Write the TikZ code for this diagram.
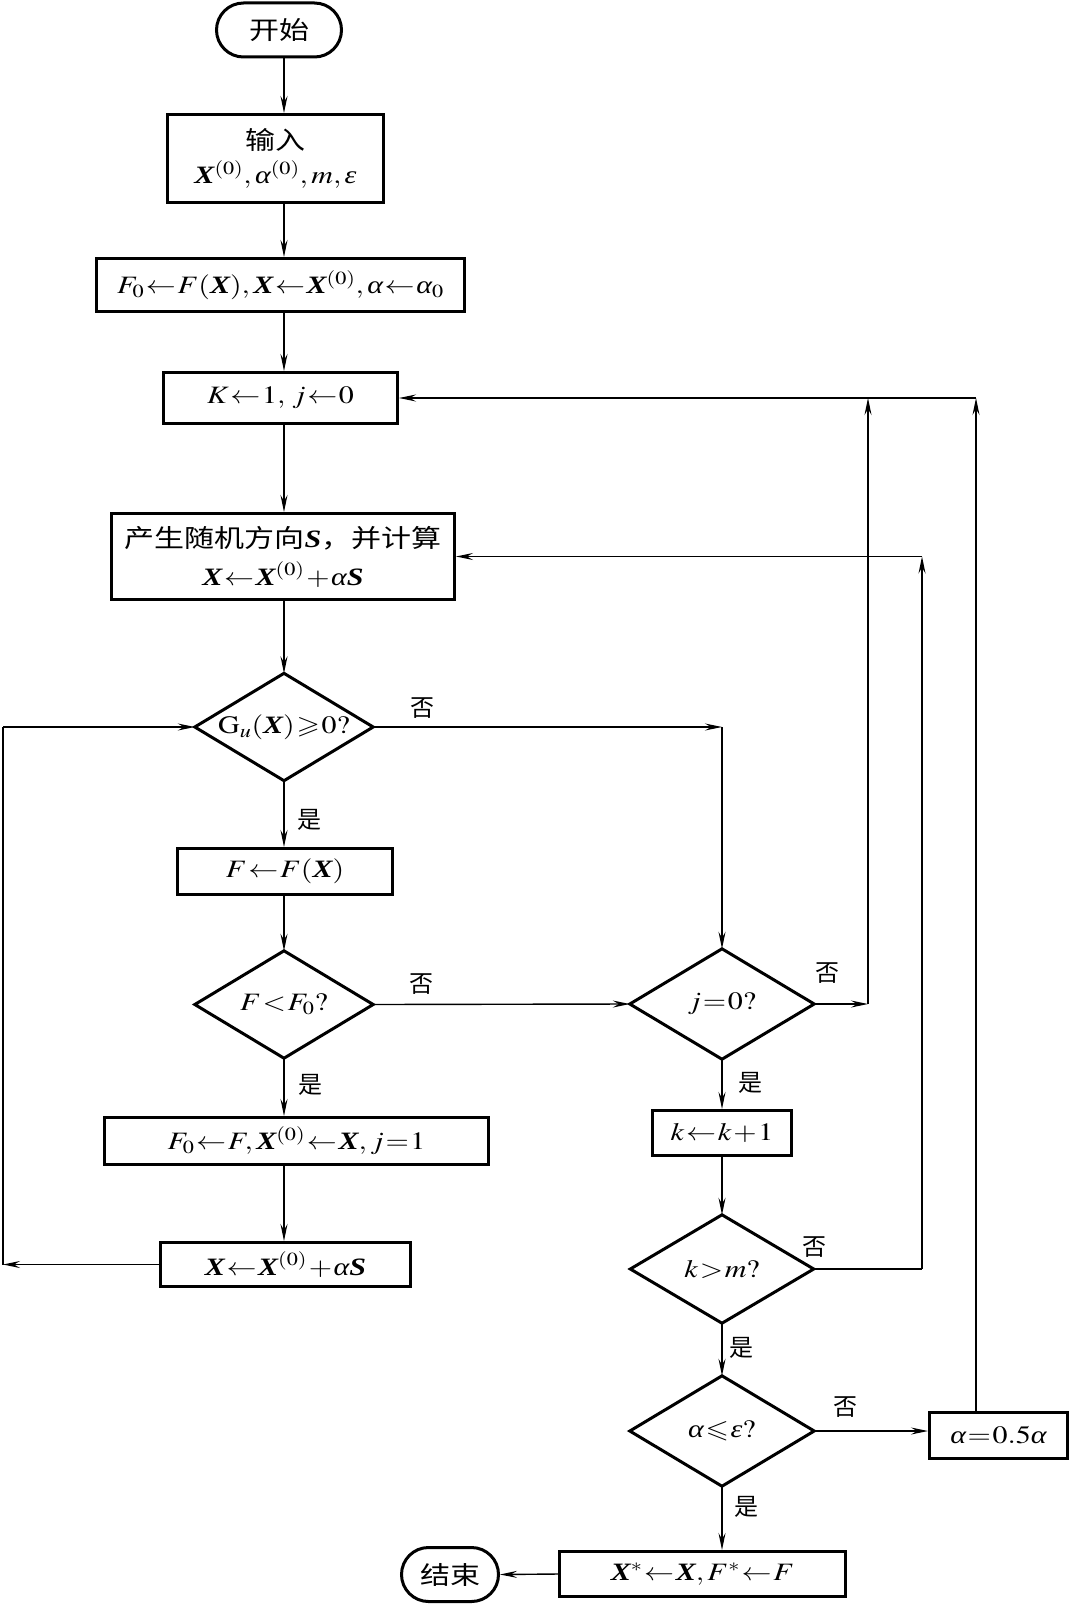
\documentclass[tikz,border=0pt]{standalone}
\usepackage{graphicx}
\usepackage{mathptmx}
\usepackage{amssymb}
\usepackage{fontspec}
\setmainfont{Liberation Serif}
\newfontfamily\cjk{Noto Sans CJK SC}
\usetikzlibrary{arrows.meta}
\newcommand\BX{\mbox{\bfseries\itshape X}}
\newcommand\BS{\mbox{\bfseries\itshape S}}
\newcommand\al{\mbox{\itshape α}}
\newcommand\ep{\mbox{\itshape ε}}
\newcommand\tightmath{\thickmuskip=1mu\relax\medmuskip=1mu\relax}
\newcommand\sx[1]{\scalebox{1.2}[1]{\tightmath #1}}
\tikzset{
  txt/.style={font=\fontsize{25}{36}\selectfont, align=center},
  box/.style={txt, draw, line width=3pt, rectangle, inner sep=0pt},
  term/.style={txt, draw, line width=3pt, rectangle, inner sep=0pt, rounded corners=27pt},
  dia/.style={txt, rectangle, inner sep=0pt},
  diab/.style={draw, line width=3pt, line join=miter},
  lab/.style={font=\fontsize{24}{28}\selectfont\cjk, inner sep=0pt},
  conn/.style={line width=1.4pt},
  arr/.style={conn, -{Stealth[length=17pt,width=7pt,inset=6pt]}}
}
\newcommand\drawdia[1]{\draw[diab] (#1.north) -- (#1.east) -- (#1.south) -- (#1.west) -- cycle;}
\begin{document}
\begin{tikzpicture}[x=1pt,y=-1pt]
\useasboundingbox[fill=white] (0,0) rectangle (1071,1605);
\coordinate (colL) at (284,0);
\coordinate (colR) at (722,0);
\coordinate (xa) at (868,0);
\coordinate (xb) at (922,0);
\coordinate (xc) at (976,0);
\coordinate (xl) at (3,0);
% left column
\node[term, minimum width=125pt, minimum height=54pt] (start) at (279,30) {\sx{\cjk 开始}};
\node[box, minimum width=216pt, minimum height=88pt] (in) at (275.5,158.5) {\sx{\cjk 输入}\\[-2pt]\sx{$\BX^{(0)},\al^{(0)},m,\ep$}};
\node[box, minimum width=368pt, minimum height=53pt] (f0) at (280.5,285) {\sx{$F_0\leftarrow F(\BX),\BX\leftarrow\BX^{(0)},\al\leftarrow\al_0$}};
\node[box, minimum width=234pt, minimum height=51pt] (K) at (280.5,398) {\sx{$K\leftarrow1,\,j\leftarrow0$}};
\node[box, minimum width=343pt, minimum height=86pt] (gen) at (283,556.5) {\sx{{\cjk 产生随机方向}$\BS${\cjk ，并计算}}\\[2pt]\sx{$\BX\leftarrow\BX^{(0)}+\al\BS$}};
\node[dia, minimum width=178pt, minimum height=107pt] (Gu) at (284,727) {\sx{$\mathrm{G}_u(\BX)\geqslant0?$}};
\drawdia{Gu}
\node[box, minimum width=215pt, minimum height=46pt] (F) at (285,871.5) {\sx{$F\leftarrow F(\BX)$}};
\node[dia, minimum width=178pt, minimum height=107pt] (FF0) at (284,1004.5) {\sx{$F<F_0?$}};
\drawdia{FF0}
\node[box, minimum width=384pt, minimum height=47pt] (upd) at (296.5,1141) {\sx{$F_0\leftarrow F,\BX^{(0)}\leftarrow\BX,j=1$}};
\node[box, minimum width=250pt, minimum height=44pt] (step) at (285.5,1264.5) {\sx{$\BX\leftarrow\BX^{(0)}+\al\BS$}};
% right column
\node[dia, minimum width=184pt, minimum height=110pt] (j0) at (722,1004) {\sx{$j=0?$}};
\drawdia{j0}
\node[box, minimum width=139pt, minimum height=45pt] (k) at (722,1133) {\sx{$k\leftarrow k+1$}};
\node[dia, minimum width=183pt, minimum height=108pt] (km) at (722,1269) {\sx{$k>m?$}};
\drawdia{km}
\node[dia, minimum width=184pt, minimum height=110pt] (ae) at (722,1431) {\sx{$\al\leqslant\ep?$}};
\drawdia{ae}
\node[box, minimum width=138pt, minimum height=46pt] (half) at (998.5,1435.5) {\sx{$\al=0.5\al$}};
\node[box, minimum width=286pt, minimum height=45pt] (xs) at (702.5,1574) {\sx{$\BX^*\leftarrow\BX,F^*\leftarrow F$}};
\node[term, minimum width=97pt, minimum height=54pt] (end) at (450,1574.5) {\sx{\cjk 结束}};
% labels
\node[lab] (l1) at (422,708) {否};
\node[lab] (l2) at (309,820) {是};
\node[lab] (l3) at (421,984) {否};
\node[lab] (l4) at (310,1085) {是};
\node[lab] (l5) at (827,973) {否};
\node[lab] (l6) at (750,1083) {是};
\node[lab] (l7) at (814,1247) {否};
\node[lab] (l8) at (741,1348) {是};
\node[lab] (l9) at (845,1407) {否};
\node[lab] (l10) at (746,1507) {是};
% vertical connectors, left column
\draw[arr] (start.south -| colL) -- (in.north -| colL);
\draw[arr] (in.south -| colL) -- (f0.north -| colL);
\draw[arr] (f0.south -| colL) -- (K.north -| colL);
\draw[arr] (K.south -| colL) -- (gen.north -| colL);
\draw[arr] (gen.south -| colL) -- (Gu.north);
\draw[arr] (Gu.south) -- (F.north -| colL);
\draw[arr] (F.south -| colL) -- (FF0.north);
\draw[arr] (FF0.south) -- (upd.north -| colL);
\draw[arr] (upd.south -| colL) -- (step.north -| colL);
% right column
\draw[arr] (j0.south) -- (k.north -| colR);
\draw[arr] (k.south -| colR) -- (km.north);
\draw[arr] (km.south) -- (ae.north);
\draw[arr] (ae.south) -- (xs.north -| colR);
\draw[arr] (xs.west) -- (end.east);
% branches
\draw[arr] (Gu.east) -- (Gu.east -| j0.north);
\draw[arr] (Gu.east -| j0.north) -- (j0.north);
\draw[arr] (FF0.east) -- (j0.west);
\draw[arr] (j0.east) -- (j0.east -| xa);
\draw[arr] (j0.east -| xa) -- (xa |- K.east);
\draw[arr] (xc |- half.north) -- (xc |- K.east);
\draw[arr] (xc |- K.east) -- (K.east);
\draw[conn] (km.east) -- (km.east -| xb);
\draw[arr] (km.east -| xb) -- (xb |- gen.east);
\draw[arr] (xb |- gen.east) -- (gen.east);
\draw[arr] (ae.east) -- (ae.east -| half.west);
\draw[arr] (step.west) -- (step.west -| xl);
\draw[conn] (step.west -| xl) -- (xl |- Gu.west);
\draw[arr] (xl |- Gu.west) -- (Gu.west);
\end{tikzpicture}
\end{document}
